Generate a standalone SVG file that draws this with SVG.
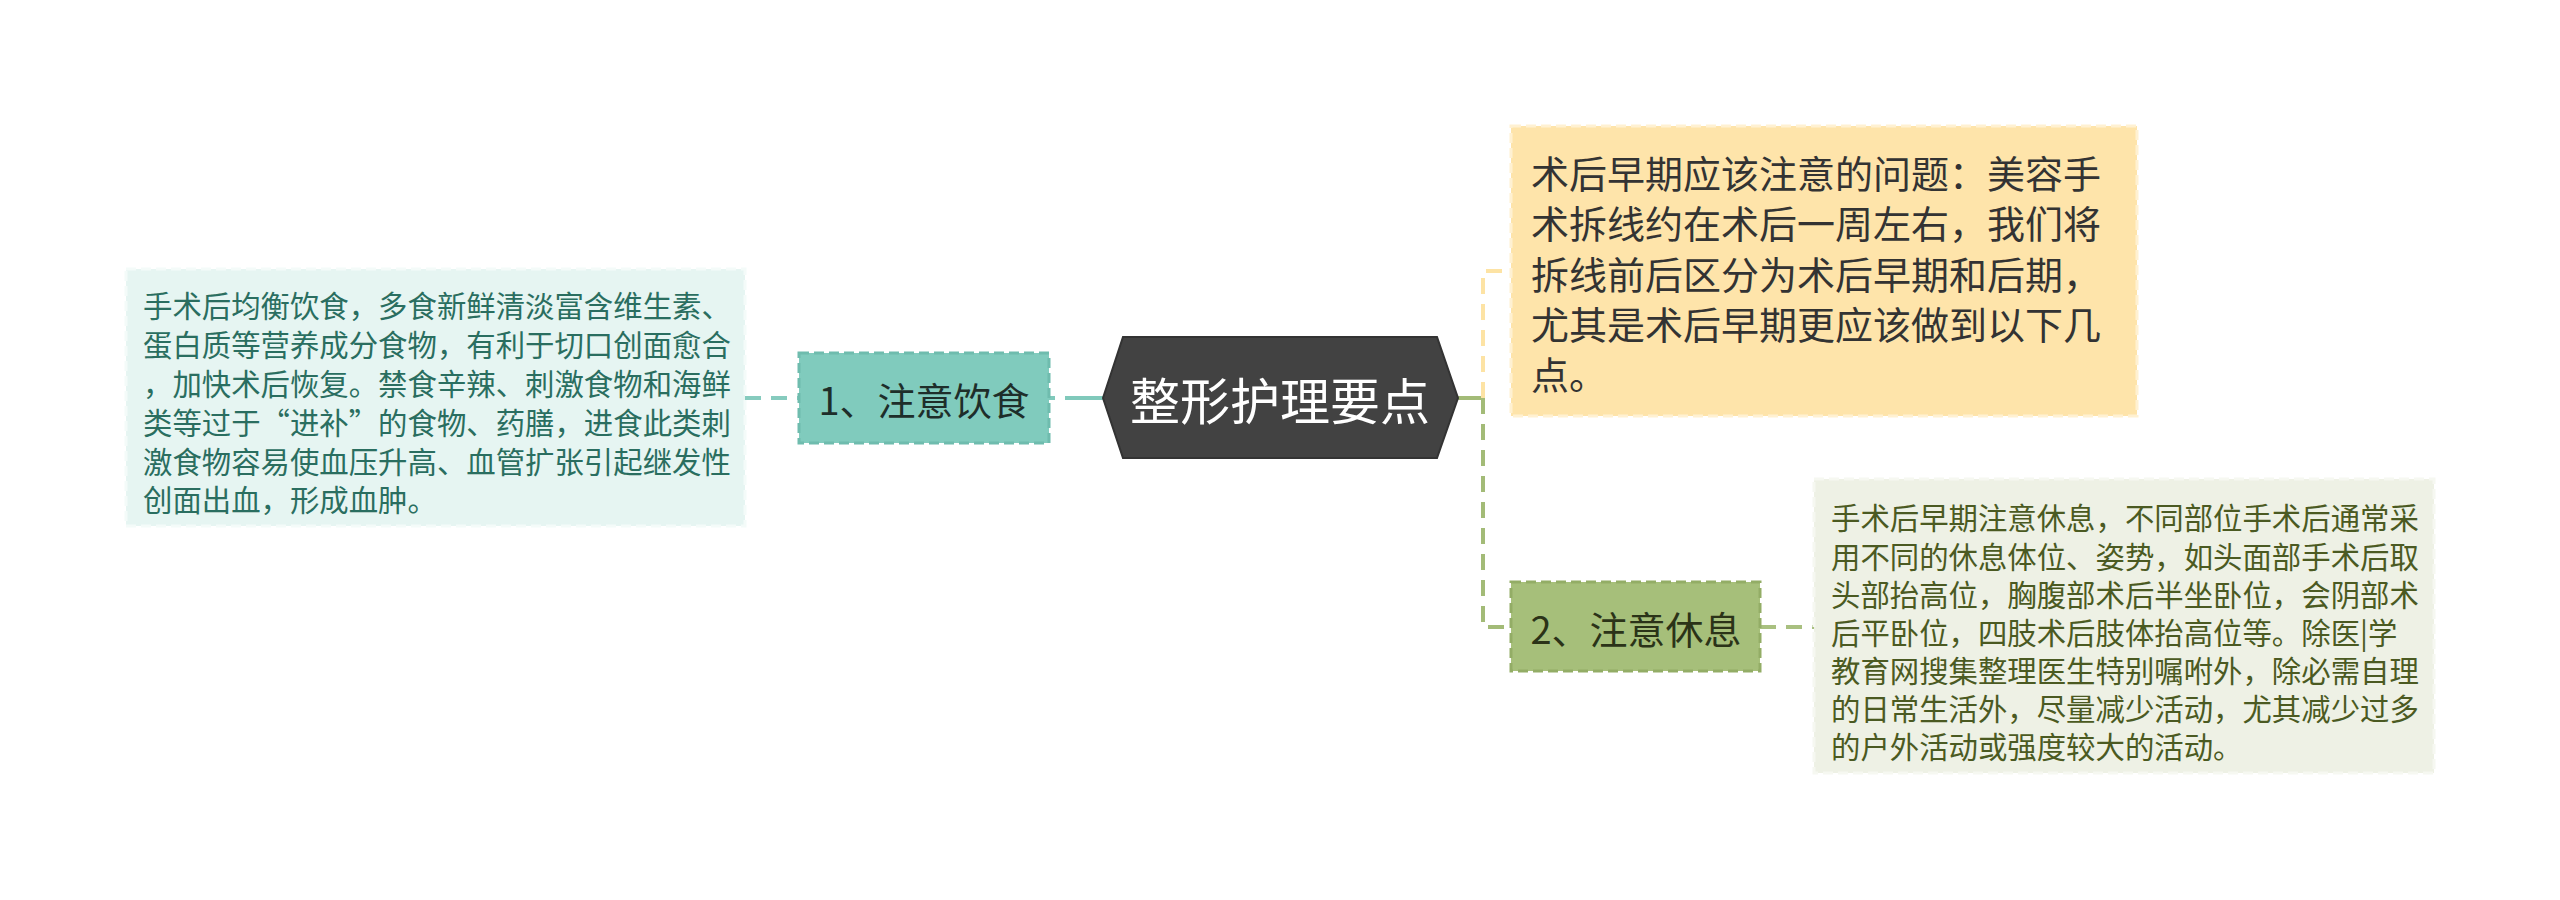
<svg xmlns="http://www.w3.org/2000/svg" width="2560" height="900" viewBox="0 0 2560 900">
<style>
text{font-family:"Noto Sans CJK SC","Noto Sans",sans-serif;dominant-baseline:central}
.small{font-size:29.4px}
.mid{font-size:38px}
.conn{fill:none;stroke-width:4}
</style>
<rect width="2560" height="900" fill="#ffffff"/>
<g id="connectors">
<path class="conn" d="M745,398 H799" stroke="#86cbbe" stroke-dasharray="16,10"/>
<path class="conn" d="M1049,398 H1103" stroke="#80c9bb" stroke-dasharray="6,10,60"/>
<path class="conn" d="M1457,398 H1483" stroke="#a3bb77"/>
<path class="conn" d="M1483,398 V627 H1510" stroke="#a3bb77" stroke-dasharray="16,10"/>
<path class="conn" d="M1483,398 V271 H1510" stroke="#fde3a4" stroke-dasharray="16,10"/>
<path class="conn" d="M1760,627 H1814" stroke="#a9c080" stroke-dasharray="16,10"/>
</g>
<g id="root">
<polygon points="1103,398 1123,337 1437,337 1458,398 1437,458 1123,458" fill="#424242" stroke="#333333" stroke-width="2"/>
<text x="1280" y="398" font-size="50" fill="#ffffff" text-anchor="middle">整形护理要点</text>
</g>
<g id="node-diet">
<rect x="799" y="353" width="250" height="90" fill="#80cbbd" stroke="#6fbcae" stroke-width="3" stroke-dasharray="10,5"/>
<text x="924" y="398" class="mid" fill="#1e2e2a" text-anchor="middle">1、注意饮食</text>
</g>
<g id="note-diet">
<rect x="126" y="269" width="619" height="257" fill="#e6f5f2" stroke="#f4fbf9" stroke-width="3" stroke-dasharray="10,5"/>
<g class="small" fill="#2a6e60">
<text x="143" y="304">手术后均衡饮食，多食新鲜清淡富含维生素、</text>
<text x="143" y="343">蛋白质等营养成分食物，有利于切口创面愈合</text>
<text x="143" y="382">，加快术后恢复。禁食辛辣、刺激食物和海鲜</text>
<text x="143" y="421">类等过于“进补”的食物、药膳，进食此类刺</text>
<text x="143" y="460">激食物容易使血压升高、血管扩张引起继发性</text>
<text x="143" y="498">创面出血，形成血肿。</text>
</g>
</g>
<g id="note-early">
<rect x="1511" y="126" width="626" height="290" fill="#fee4aa" stroke="#fff1d2" stroke-width="3" stroke-dasharray="10,5"/>
<g class="mid" fill="#333333">
<text x="1531" y="171">术后早期应该注意的问题：美容手</text>
<text x="1531" y="221">术拆线约在术后一周左右，我们将</text>
<text x="1531" y="272">拆线前后区分为术后早期和后期，</text>
<text x="1531" y="322">尤其是术后早期更应该做到以下几</text>
<text x="1531" y="372">点。</text>
</g>
</g>
<g id="node-rest">
<rect x="1511" y="582" width="249" height="89" fill="#a6bf7a" stroke="#93ad66" stroke-width="3" stroke-dasharray="10,5"/>
<text x="1636" y="627" class="mid" fill="#2b3318" text-anchor="middle">2、注意休息</text>
</g>
<g id="note-rest">
<rect x="1814" y="479" width="620" height="294" fill="#eef1e5" stroke="#f6f8f1" stroke-width="3" stroke-dasharray="10,5"/>
<g class="small" fill="#4b5a22">
<text x="1831" y="516">手术后早期注意休息，不同部位手术后通常采</text>
<text x="1831" y="555">用不同的休息体位、姿势，如头面部手术后取</text>
<text x="1831" y="593">头部抬高位，胸腹部术后半坐卧位，会阴部术</text>
<text x="1831" y="631">后平卧位，四肢术后肢体抬高位等。除医|学</text>
<text x="1831" y="669">教育网搜集整理医生特别嘱咐外，除必需自理</text>
<text x="1831" y="707">的日常生活外，尽量减少活动，尤其减少过多</text>
<text x="1831" y="745">的户外活动或强度较大的活动。</text>
</g>
</g>
</svg>
